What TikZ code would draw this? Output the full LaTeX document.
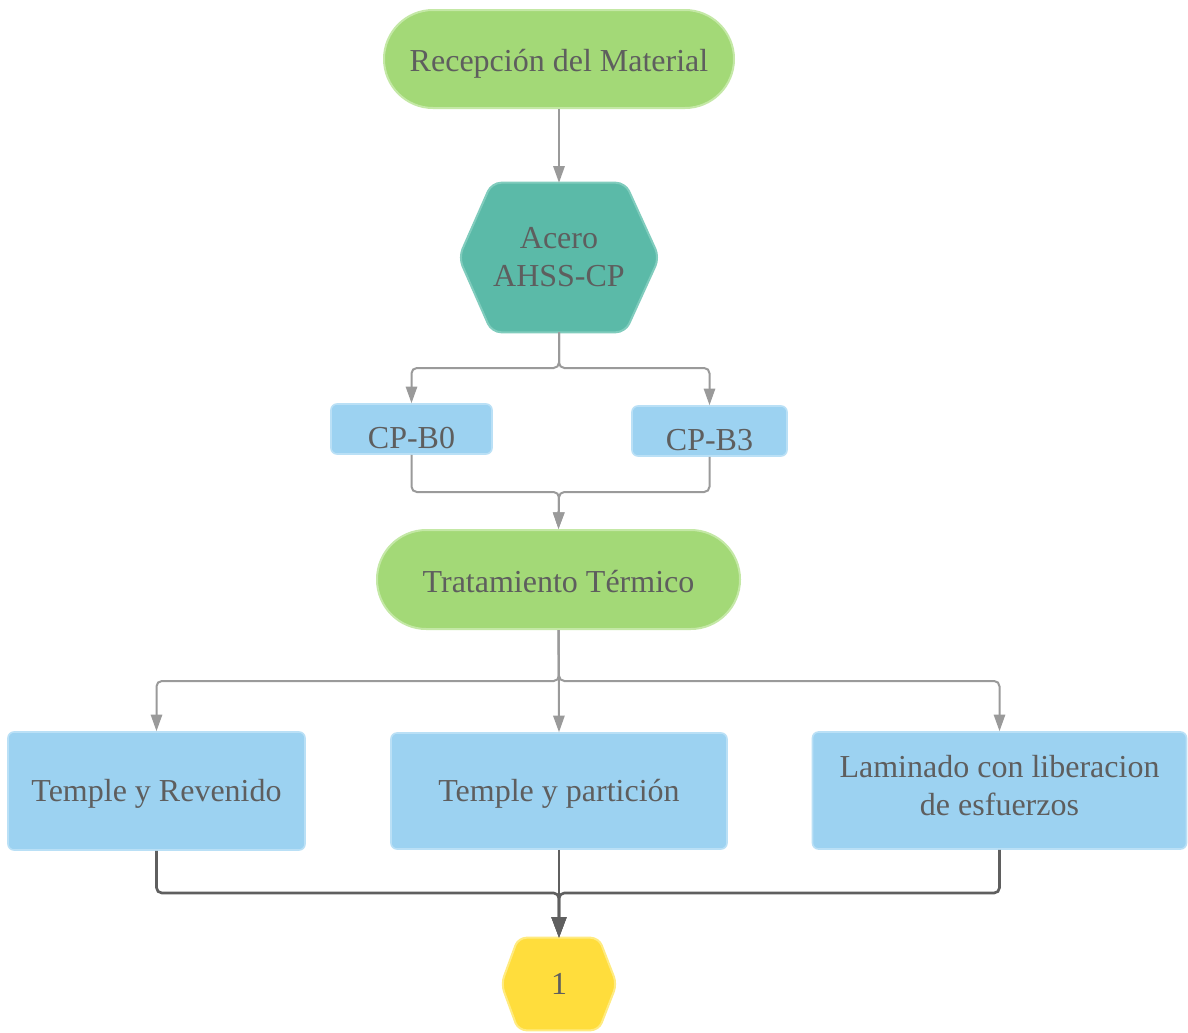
\documentclass[tikz,border=0pt]{standalone}
\usepackage{fontspec}
\setmainfont{Liberation Serif}
\usetikzlibrary{arrows.meta,backgrounds,calc}
\definecolor{tgreen}{HTML}{A3D977}
\definecolor{tgreenb}{HTML}{C4E8A6}
\definecolor{tteal}{HTML}{5BBAA8}
\definecolor{ttealb}{HTML}{80CCBD}
\definecolor{tblue}{HTML}{9CD2F1}
\definecolor{tblueb}{HTML}{BAE0F6}
\definecolor{tyellow}{HTML}{FFDD3C}
\definecolor{tyellowb}{HTML}{FFEB80}
\definecolor{ttext}{HTML}{5E5E5E}
\definecolor{lconn}{HTML}{9A9A9A}
\definecolor{dconn}{HTML}{5F5F5F}
\tikzset{
  lbl/.style={text=ttext, font=\fontsize{24}{28.5}\selectfont, align=center, inner sep=0pt},
  stadium/.style={lbl, rectangle, fill=tgreen, draw=tgreenb, line width=1.5pt},
  bluebox/.style={lbl, rectangle, rounded corners=4.5pt, fill=tblue, draw=tblueb, line width=1.2pt},
  hexlbl/.style={lbl, rectangle},
  conn/.style={draw=lconn, line width=1.5pt, rounded corners=4pt, -{Triangle[length=12.5pt,width=8.5pt]}},
  darkconn/.style={draw=dconn, line width=2pt, rounded corners=4pt, -{Triangle[length=15.5pt,width=11pt]}}
}
\begin{document}
\begin{tikzpicture}[x=0.75pt,y=-0.75pt]
\useasboundingbox (0,0) rectangle (1188,1032);

% nodes
\node[stadium, minimum width=262.5pt, minimum height=73.5pt, rounded corners=36.75pt, text height=19pt, text depth=0pt] (rec) at (559,59) {Recepción del Material};
\node[hexlbl, minimum width=150pt, minimum height=111.75pt] (acero) at (559,257.5) {Acero\\AHSS-CP};
\node[bluebox, minimum width=120.75pt, minimum height=37.5pt, text height=28.8pt, text depth=0pt] (b0) at (411.5,429) {CP-B0};
\node[bluebox, minimum width=116.25pt, minimum height=37.5pt, text height=28.8pt, text depth=0pt] (b3) at (709.5,431) {CP-B3};
\node[stadium, minimum width=272.25pt, minimum height=74.25pt, rounded corners=37pt, text height=19pt, text depth=0pt] (trat) at (558.5,579.5) {Tratamiento Térmico};
\node[bluebox, minimum width=222.75pt, minimum height=88.5pt, text height=16pt, text depth=0pt] (tr) at (156.5,791) {Temple y Revenido};
\node[bluebox, minimum width=252pt, minimum height=87pt, text height=16pt, text depth=0pt] (tp) at (559,791) {Temple y partición};
\node[bluebox, minimum width=280.5pt, minimum height=87.75pt, text depth=7.5pt] (lam) at (999.5,790.5) {Laminado con liberacion\\de esfuerzos};
\node[hexlbl, minimum width=86.25pt, minimum height=69pt, text height=16pt, text depth=0pt] (one) at (559,984) {1};

% background and hexagon outlines
\begin{scope}[on background layer]
\fill[white] (0,0) rectangle (1188,1032);
\filldraw[fill=tteal, draw=ttealb, line width=1.5pt, rounded corners=7pt]
  (acero.north) -- ($(acero.north east)+(-34,0)$) -- (acero.east) -- ($(acero.south east)+(-34,0)$)
  -- ($(acero.south west)+(33,0)$) -- (acero.west) -- ($(acero.north west)+(33,0)$) -- cycle;
\filldraw[fill=tyellow, draw=tyellowb, line width=1.5pt, rounded corners=6pt]
  (one.north) -- ($(one.north east)+(-18,0)$) -- (one.east) -- ($(one.south east)+(-18,0)$)
  -- ($(one.south west)+(17,0)$) -- (one.west) -- ($(one.north west)+(17,0)$) -- cycle;
\end{scope}

% junctions
\coordinate (j1) at (559,368);
\coordinate (j2) at (559,492);
\coordinate (j3) at (559,681);
\coordinate (j4) at (559,893);

% connectors
\draw[conn] (rec.south) -- (acero.north);
\draw[conn] (acero.south) -- (j1) -| (b0.north);
\draw[conn] (acero.south) -- (j1) -| (b3.north);
\draw[conn] (b0.south) |- (j2) -- (trat.north);
\draw[conn] (b3.south) |- (j2) -- (trat.north);
\draw[conn] (trat.south) -- (j3) -| (tr.north);
\draw[conn] (trat.south) -- (tp.north);
\draw[conn] (trat.south) -- (j3) -| (lam.north);
\draw[darkconn] (tr.south) |- (j4) -- (one.north);
\draw[darkconn] (tp.south) -- (one.north);
\draw[darkconn] (lam.south) |- (j4) -- (one.north);
\end{tikzpicture}
\end{document}
